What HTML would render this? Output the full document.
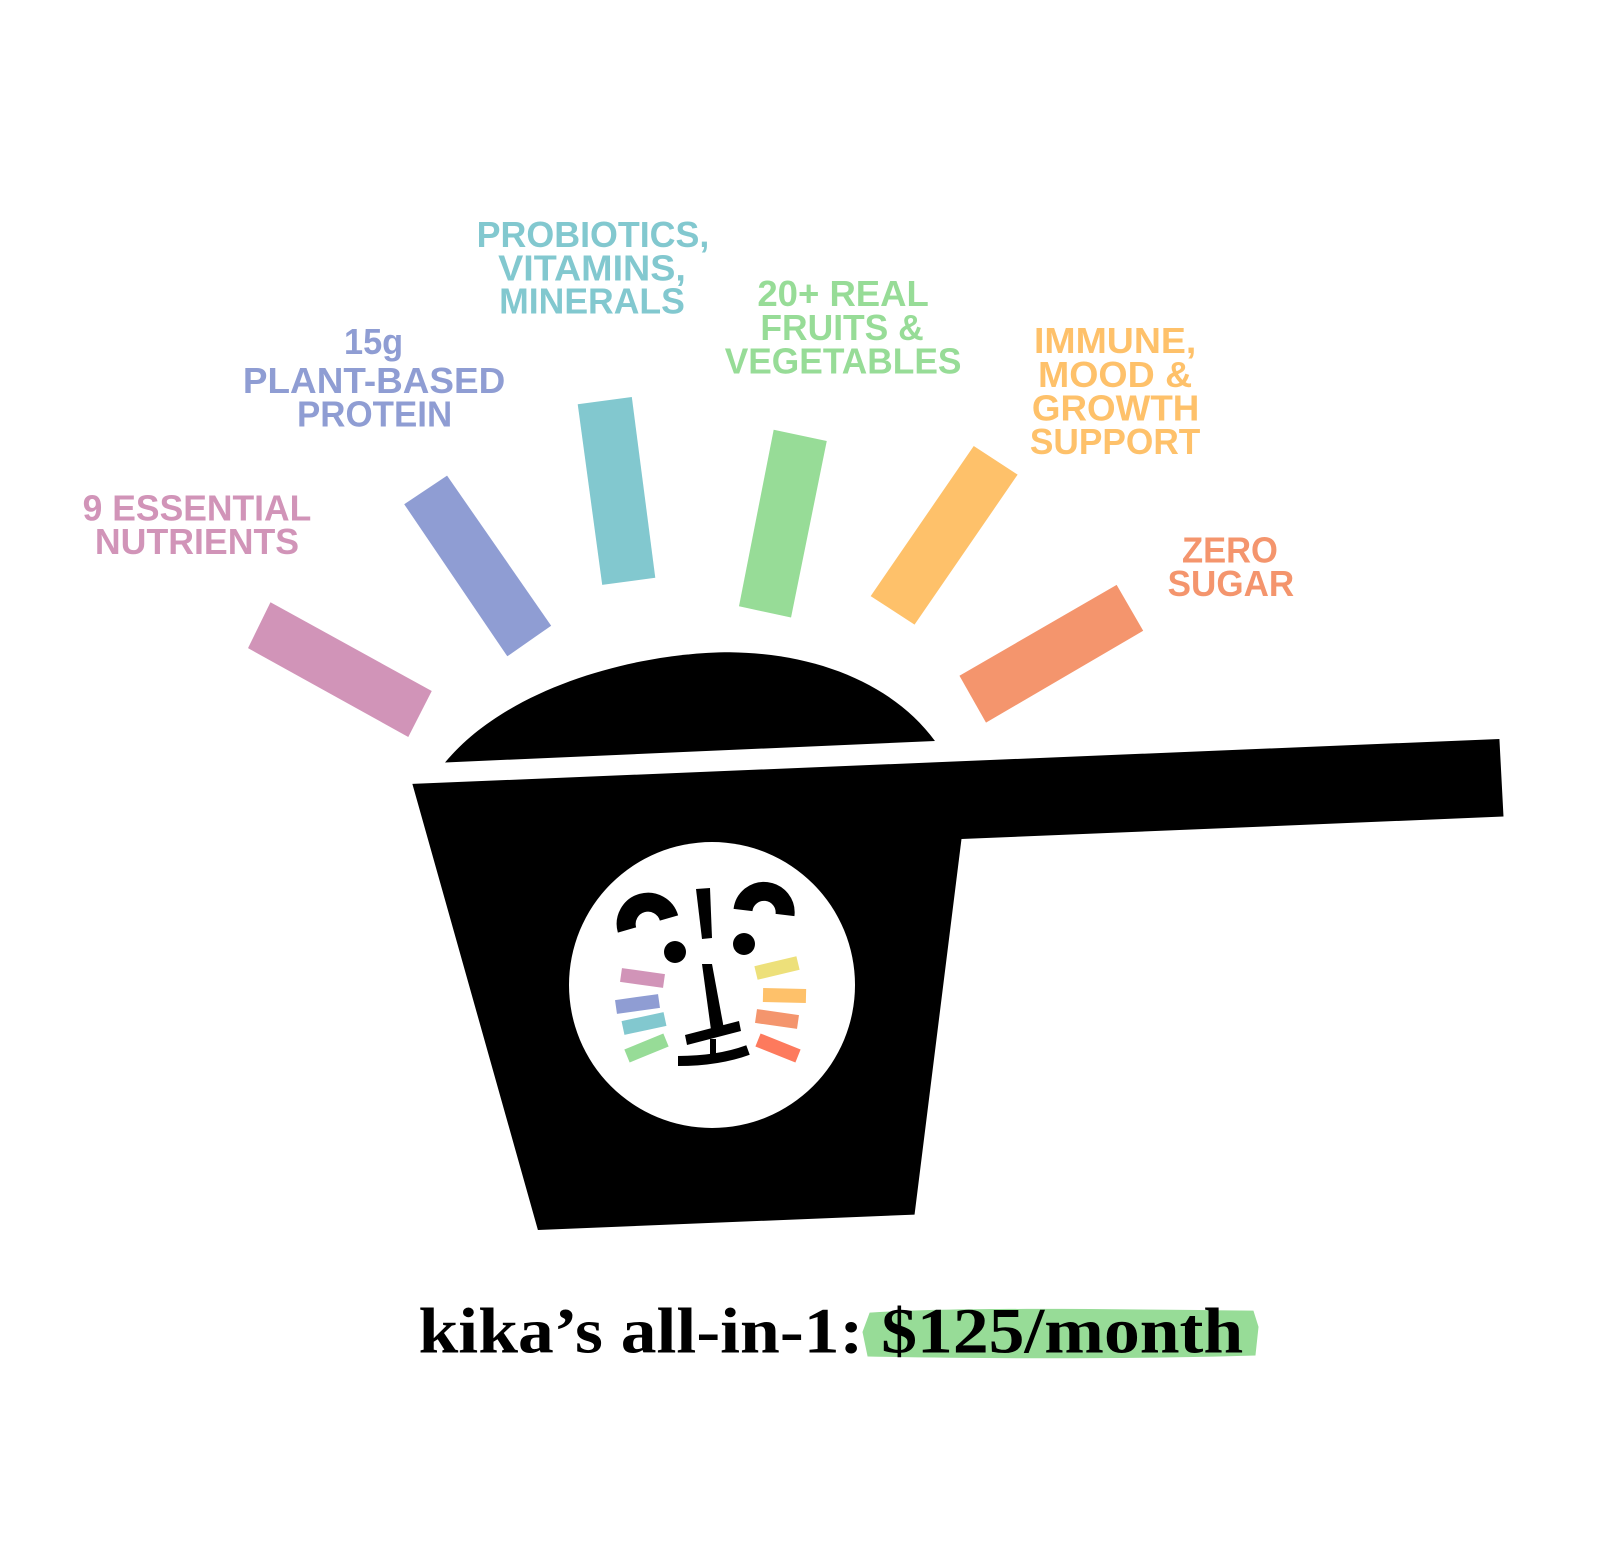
<!DOCTYPE html>
<html><head><meta charset="utf-8"><style>
html,body{margin:0;padding:0;background:#fff;}
svg{display:block;}
.l{font-family:"Liberation Sans",sans-serif;font-weight:bold;font-size:35px;}
</style></head><body>
<svg width="1600" height="1551" viewBox="0 0 1600 1551" xmlns="http://www.w3.org/2000/svg">
<rect width="1600" height="1551" fill="#fff"/>
<g transform="scale(1.0207)">
  <polygon points="265,590 423,677 400,722 243,635" fill="#d194b8"/>
  <polygon points="396,494 438,466 540,613 497,643" fill="#8f9dd3"/>
  <polygon points="566,396 619,389 642,566 590,573" fill="#82c8cf"/>
  <polygon points="758,421 810,432 775,605 724,594" fill="#97dc97"/>
  <polygon points="954,437 997,465 896,612 853,584" fill="#fec16a"/>
  <polygon points="1094,573 1120,618 966,708 940,662" fill="#f4956d"/>
  <path d="M436,747 C500,670 630,639 715,639 C800,640 875,670 916,726 Z" fill="#000"/>
  <polygon points="404,768 1469,724 1473,800 942,822 896,1190 527,1205" fill="#000"/>
  <g fill="#d194b8"><text class="l" x="81" y="510" textLength="224" lengthAdjust="spacingAndGlyphs">9 ESSENTIAL</text><text class="l" x="93" y="543" textLength="200" lengthAdjust="spacingAndGlyphs">NUTRIENTS</text></g>
  <g fill="#8f9dd3"><text class="l" x="337" y="347" textLength="58" lengthAdjust="spacingAndGlyphs">15g</text><text class="l" x="238" y="385" textLength="257" lengthAdjust="spacingAndGlyphs">PLANT-BASED</text><text class="l" x="291" y="418" textLength="152" lengthAdjust="spacingAndGlyphs">PROTEIN</text></g>
  <g fill="#82c8cf"><text class="l" x="467" y="242" textLength="228" lengthAdjust="spacingAndGlyphs">PROBIOTICS,</text><text class="l" x="488" y="275" textLength="184" lengthAdjust="spacingAndGlyphs">VITAMINS,</text><text class="l" x="489" y="307" textLength="182" lengthAdjust="spacingAndGlyphs">MINERALS</text></g>
  <g fill="#97dc97"><text class="l" x="742" y="300" textLength="168" lengthAdjust="spacingAndGlyphs">20+ REAL</text><text class="l" x="745" y="333" textLength="160" lengthAdjust="spacingAndGlyphs">FRUITS &amp;</text><text class="l" x="710" y="366" textLength="232" lengthAdjust="spacingAndGlyphs">VEGETABLES</text></g>
  <g fill="#fec16a"><text class="l" x="1013" y="346" textLength="159" lengthAdjust="spacingAndGlyphs">IMMUNE,</text><text class="l" x="1017" y="379" textLength="151" lengthAdjust="spacingAndGlyphs">MOOD &amp;</text><text class="l" x="1011" y="412" textLength="164" lengthAdjust="spacingAndGlyphs">GROWTH</text><text class="l" x="1009" y="445" textLength="167" lengthAdjust="spacingAndGlyphs">SUPPORT</text></g>
  <g fill="#f4956d"><text class="l" x="1158" y="551" textLength="94" lengthAdjust="spacingAndGlyphs">ZERO</text><text class="l" x="1144" y="584" textLength="124" lengthAdjust="spacingAndGlyphs">SUGAR</text></g>
  <path d="M852,1286 C950,1280 1100,1283 1228,1284 L1233,1300 L1230,1328 C1100,1332 950,1331 850,1329 L845,1305 Z" fill="#97dc97"/>
  <text x="410" y="1325" textLength="808" lengthAdjust="spacingAndGlyphs" font-family="'Liberation Serif',serif" font-weight="bold" font-size="63" fill="#000">kika’s all-in-1: $125/month</text>
</g>
<g transform="translate(-2,-5)">
<circle cx="714" cy="990" r="143" fill="#fff"/>
<g fill="none" stroke="#000" stroke-width="19">
  <path d="M629,935 A21,21 0 0 1 671,923"/>
  <path d="M745,915 A21,21 0 0 1 787,920"/>
</g>
<polygon points="698,894 712,893 714,943 704,944" fill="#000"/>
<circle cx="677" cy="957" r="11" fill="#000"/>
<circle cx="746" cy="949" r="11" fill="#000"/>
<polygon points="704,969 714,969 726,1034 713,1035" fill="#000"/>
<polygon points="687,1040 741,1026 743,1036 689,1050" fill="#000"/>
<rect x="712" y="1044" width="6" height="20" fill="#000"/>
<path d="M680,1066 Q720,1066 750,1055" fill="none" stroke="#000" stroke-width="10"/>
<g stroke-width="14" fill="none">
  <line x1="623" y1="980" x2="666" y2="986" stroke="#d194b8"/>
  <line x1="618" y1="1012" x2="661" y2="1006" stroke="#8f9dd3"/>
  <line x1="625" y1="1033" x2="667" y2="1024" stroke="#82c8cf"/>
  <line x1="629" y1="1061" x2="668" y2="1045" stroke="#97dc97"/>
  <line x1="758" y1="978" x2="800" y2="968" stroke="#ede07a"/>
  <line x1="765" y1="1000" x2="808" y2="1001" stroke="#fec16a"/>
  <line x1="758" y1="1021" x2="800" y2="1027" stroke="#f4956d"/>
  <line x1="760" y1="1045" x2="800" y2="1061" stroke="#fd7a5d"/>
</g>
</g>
</svg>
</body></html>
